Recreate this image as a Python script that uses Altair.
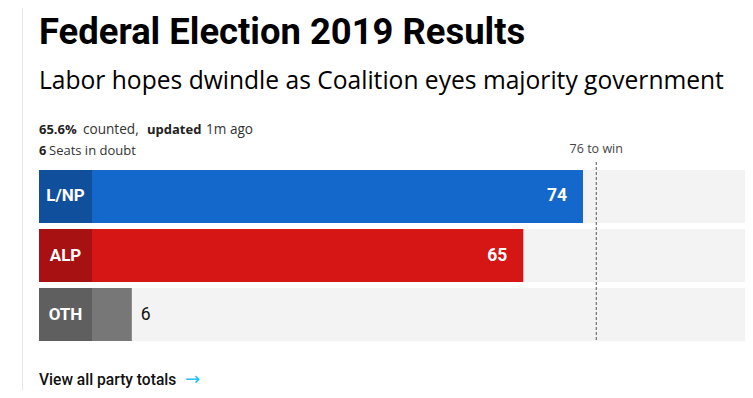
import altair as alt
import pandas as pd

# ---- data ----
parties = ["L/NP", "ALP", "OTH"]
seats = [74, 65, 6]
bar_colors = ["#1568cb", "#d61515", "#777777"]
box_colors = ["#0f4f9b", "#a81111", "#5f5f5f"]
majority = 76
counted_pct = "65.6%"
seats_in_doubt = 6

title = "Federal Election 2019 Results"
subtitle = "Labor hopes dwindle as Coalition eyes majority government"

FONT = "Roboto"
SMALL = "Open Sans"
W, H = 737, 382

df = pd.DataFrame({"party": parties, "seats": seats,
                   "bar": bar_colors, "box": box_colors})

xs = alt.Scale(domain=[0, 100], range=[84, 84 + 663.5])
ys = alt.Scale(domain=parties, range=[162, 333], paddingInner=0.1017, paddingOuter=0)

X = alt.X("seats:Q", scale=xs, axis=None)
Y = alt.Y("party:N", scale=ys, axis=None, sort=parties)

base = alt.Chart(df)

background = base.mark_rect(color="#f3f3f3").encode(
    x=alt.value(31), x2=alt.value(W), y=Y)

bars = base.transform_calculate(zero="0").mark_rect().encode(
    x=alt.X("zero:Q", scale=xs, axis=None), x2="seats:Q", y=Y,
    color=alt.Color("bar:N", scale=None))

boxes = base.mark_rect().encode(
    x=alt.value(31), x2=alt.value(84), y=Y,
    color=alt.Color("box:N", scale=None))

box_labels = base.mark_text(font=FONT, fontSize=17, fontWeight="bold",
                            color="white", align="center", baseline="middle").encode(
    x=alt.value(57.5), y=Y, text="party:N")

inside = base.transform_filter("datum.seats >= 10").mark_text(
    font=FONT, fontSize=17.5, fontWeight="bold", color="white",
    align="right", baseline="middle", dx=-16).encode(x=X, y=Y, text="seats:Q")

outside = base.transform_filter("datum.seats < 10").mark_text(
    font=FONT, fontSize=17.5, color="#111111",
    align="left", baseline="middle", dx=9).encode(x=X, y=Y, text="seats:Q")

win_df = pd.DataFrame({"m": [majority], "label": [f"{majority} to win"]})
win_rule = alt.Chart(win_df).mark_rule(color="#555555", strokeDash=[3, 2], strokeWidth=1).encode(
    x=alt.X("m:Q", scale=xs, axis=None), y=alt.value(154), y2=alt.value(333))
win_text = alt.Chart(win_df).mark_text(font=SMALL, fontSize=12.5, color="#444444",
                                       align="center", baseline="alphabetic").encode(
    x=alt.X("m:Q", scale=xs, axis=None), y=alt.value(145.3), text="label:N")


def txt(s, x, y, size, weight="normal", color="#111111", font=FONT):
    return alt.Chart(pd.DataFrame({"t": [s]})).mark_text(
        font=font, fontSize=size, fontWeight=weight, color=color,
        align="left", baseline="alphabetic").encode(
        x=alt.value(x), y=alt.value(y), text="t:N")


header = [
    txt(title, 31, 36, 36.4, "bold", "#000000"),
    txt(subtitle, 31, 81.3, 24.6, "normal", "#000000", SMALL),
    txt(counted_pct, 31, 126, 13, "bold", "#222222", SMALL),
    txt("counted,", 75, 126, 13.6, "normal", "#333333", SMALL),
    txt("updated", 139, 126, 13, "bold", "#222222", SMALL),
    txt("1m ago", 198, 126, 13.6, "normal", "#333333", SMALL),
    txt(str(seats_in_doubt), 31, 147, 12.8, "bold", "#222222", SMALL),
    txt("Seats in doubt", 41, 147, 13, "normal", "#333333", SMALL),
    txt("View all party totals", 31, 377, 15.6, 500, "#111111"),
    txt("→", 177, 377, 18, "normal", "#1fc3f4", "DejaVu Sans"),
]

left_line = alt.Chart(win_df).mark_rule(color="#e6e6e6", strokeWidth=1).encode(
    x=alt.value(14.5), y=alt.value(0), y2=alt.value(H))

chart = alt.layer(
    left_line, background, bars, boxes, box_labels, inside, outside,
    win_rule, win_text, *header
).properties(
    width=W, height=H, padding=0,
    autosize=alt.AutoSizeParams(type="none")
).configure_view(stroke=None)

chart.save("out.html", embed_options={"renderer": "svg", "actions": False})
